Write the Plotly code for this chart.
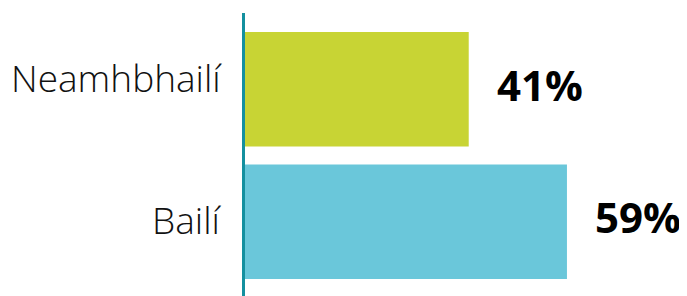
import plotly.graph_objects as go

categories = ["Neamhbhailí", "Bailí"]
values = [41, 59]
value_labels = ["41%", "59%"]
colors = ["#c8d434", "#6ac7da"]

# label vertical nudges (px), styling only
cat_label_yshift = {"Neamhbhailí": 10, "Bailí": 0}

fig = go.Figure()
fig.add_trace(go.Bar(
    y=categories, x=values, orientation="h",
    marker=dict(color=colors, line=dict(width=0)),
    hoverinfo="skip",
))

for c, v, t in zip(categories, values, value_labels):
    fig.add_annotation(
        x=v, y=c, text=t, showarrow=False, xanchor="left", yanchor="middle",
        xshift=26, yshift=5,
        font=dict(family="Open Sans", size=42, color="#000000", weight="bold"),
    )
    fig.add_annotation(
        x=0, xref="paper", y=c, text=c, showarrow=False, xanchor="right", yanchor="middle",
        xshift=-21, yshift=cat_label_yshift[c] + 2,
        font=dict(family="Open Sans", size=37, color="#111111", weight=300),
    )

fig.update_layout(
    width=679, height=288,
    margin=dict(l=237, r=0, t=5, b=0, autoexpand=False),
    paper_bgcolor="white", plot_bgcolor="white",
    bargap=0.135,
    showlegend=False,
    xaxis=dict(range=[0, 81], visible=False, showgrid=False, zeroline=False, automargin=False),
    yaxis=dict(
        type="category", categoryarray=categories,
        range=[1.56, -0.575],
        showline=True, linecolor="#14909f", linewidth=3,
        showgrid=False, zeroline=False, ticks="",
        automargin=False, showticklabels=False,
    ),
)

fig.write_html("out.html")
